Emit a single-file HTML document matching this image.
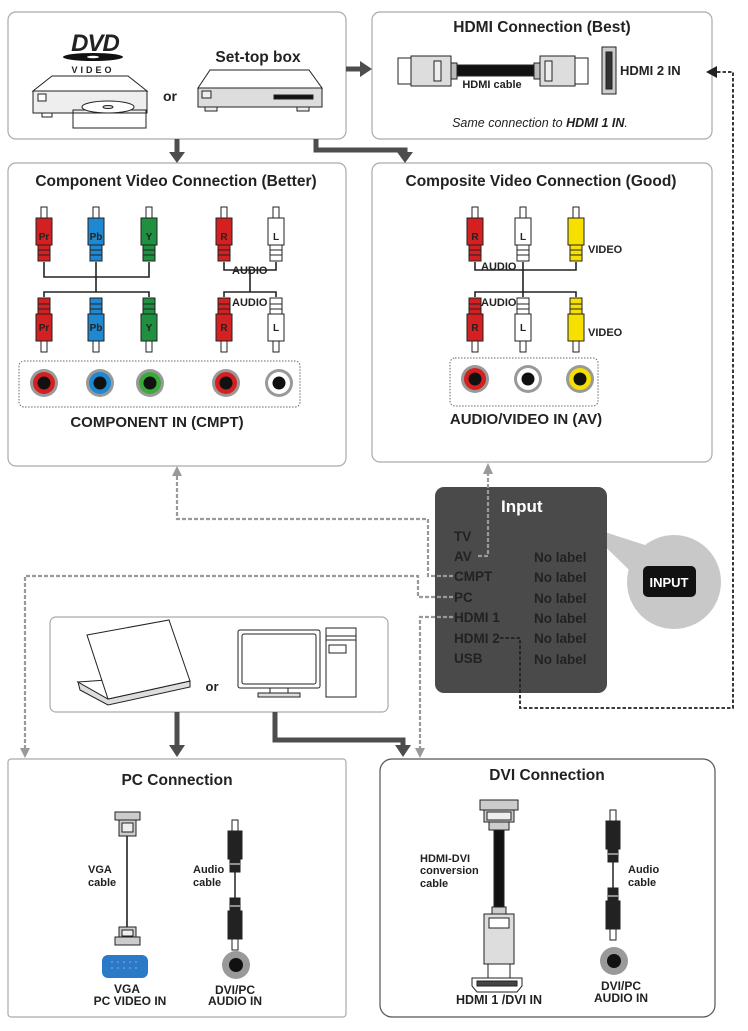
<!DOCTYPE html>
<html><head><meta charset="utf-8"><style>
html,body{margin:0;padding:0;background:#fff;width:748px;height:1031px;overflow:hidden}
svg{display:block}
text{font-family:"Liberation Sans Narrow","Liberation Sans",Arial,sans-serif;font-weight:bold;fill:#222}
</style></head><body>
<svg width="748" height="1031" viewBox="0 0 748 1031" xmlns="http://www.w3.org/2000/svg">
<defs>
<g id="rca" stroke="#222" stroke-width="1">
 <rect x="-3" y="0" width="6" height="11" fill="#fff"/>
 <rect x="-8" y="11" width="16" height="27" fill="currentColor"/>
 <rect x="-6" y="38" width="12" height="5" fill="currentColor"/>
 <rect x="-6" y="43" width="12" height="5" fill="currentColor"/>
 <rect x="-6" y="48" width="12" height="6" fill="currentColor"/>
</g>
<g id="blk" stroke="#222" stroke-width="1">
 <rect x="-3" y="0" width="6" height="11" fill="#fff"/>
 <rect x="-7" y="11" width="14" height="28" fill="#222"/>
 <rect x="-5" y="39" width="10" height="13" fill="#222"/>
 <line x1="-5" y1="44" x2="5" y2="44" stroke="#fff"/>
</g>
</defs>

<g fill="#fff" stroke="#aaa" stroke-width="1.2">
<rect x="8" y="12" width="338" height="127" rx="8"/>
<rect x="372" y="12" width="340" height="127" rx="8"/>
<rect x="8" y="163" width="338" height="303" rx="8"/>
<rect x="372" y="163" width="340" height="299" rx="8"/>
<rect x="50" y="617" width="338" height="95" rx="6"/>
<rect x="8" y="759" width="338" height="258" rx="3"/>
</g>
<rect x="380" y="759" width="335" height="258" rx="12" fill="#fff" stroke="#555" stroke-width="1.2"/>

<g stroke="#4d4d4d" stroke-width="5" fill="none">
<path d="M346 69 H361"/>
<path d="M177 139 V153"/>
<path d="M316 139 V150 H405 V153"/>
<path d="M177 712 V745"/>
<path d="M275 712 V740 H403 V745"/>
</g>
<g fill="#4d4d4d">
<path d="M360 61 L372 69 L360 77Z"/>
<path d="M169 152 L185 152 L177 163Z"/>
<path d="M397 152 L413 152 L405 163Z"/>
<path d="M169 745 L185 745 L177 757Z"/>
<path d="M395 745 L411 745 L403 757Z"/>
</g>

<text x="95" y="51" font-size="24" text-anchor="middle" font-style="italic" fill="#111" style="letter-spacing:-1px">DVD</text>
<ellipse cx="93" cy="57" rx="30" ry="4" fill="#111"/>
<ellipse cx="93" cy="57" rx="6" ry="1.3" fill="#fff"/>
<text x="93" y="73" font-size="9" text-anchor="middle" style="letter-spacing:3px;font-family:'Liberation Sans',sans-serif">VIDEO</text>
<g stroke="#222" stroke-width="1" fill="#fff">
<path d="M33 91 L52 76 H128 L147 91Z"/>
<rect x="33" y="91" width="114" height="22" fill="#eee"/>
<rect x="38" y="94" width="8" height="7"/>
<rect x="42" y="113" width="10" height="4"/>
<rect x="128" y="113" width="10" height="4"/>
<rect x="73" y="113" width="73" height="15"/>
<path d="M73 110 H146 V113 H73Z" fill="#eee"/>
<ellipse cx="108" cy="107" rx="26" ry="6"/>
<ellipse cx="108" cy="107" rx="5" ry="1.5" fill="#ddd"/>
</g>
<text x="170" y="101" font-size="14" text-anchor="middle">or</text>
<text x="258" y="62" font-size="15.5" text-anchor="middle">Set-top box</text>
<g stroke="#222" stroke-width="1" fill="#eee">
<path d="M198 88 L210 70 H309 L322 88Z" fill="#fff"/>
<rect x="198" y="88" width="124" height="19" fill="#ddd"/>
<rect x="202" y="91" width="9" height="7"/>
<rect x="274" y="95" width="39" height="4" fill="#111"/>
<rect x="205" y="107" width="12" height="4"/>
<rect x="297" y="107" width="12" height="4"/>
</g>

<text x="542" y="32" font-size="15.5" text-anchor="middle">HDMI Connection (Best)</text>
<g stroke="#222" stroke-width="1">
<rect x="398" y="58" width="13" height="26" fill="#fff"/>
<rect x="411" y="56" width="40" height="30" fill="#ddd"/>
<rect x="434" y="61" width="7" height="20" fill="#eee"/>
<rect x="451" y="63" width="6" height="16" fill="#bbb"/>
<rect x="457" y="65" width="77" height="11" fill="#111"/>
<rect x="534" y="63" width="6" height="16" fill="#bbb"/>
<rect x="540" y="56" width="35" height="30" fill="#ddd"/>
<rect x="545" y="61" width="7" height="20" fill="#eee"/>
<rect x="575" y="58" width="13" height="26" fill="#fff"/>
<rect x="602" y="47" width="14" height="47" fill="#ccc"/>
<rect x="606" y="52" width="6" height="37" fill="#333"/>
</g>
<text x="492" y="88" font-size="11" text-anchor="middle">HDMI cable</text>
<text x="620" y="75" font-size="13">HDMI 2 IN</text>
<text x="540" y="127" font-size="12.5" text-anchor="middle" font-style="italic" style="font-weight:normal">Same connection to <tspan font-weight="bold">HDMI 1 IN</tspan>.</text>

<text x="176" y="186" font-size="15.5" text-anchor="middle">Component Video Connection (Better)</text>
<g fill="none" stroke="#222" stroke-width="1.6">
<path d="M44 262 V277 H149 V262 M96 262 V292 M44 297 V292 H149 V297"/>
<path d="M224 262 V270 H276 V262 M250 270 V292 M224 297 V292 H276 V297"/>
<path d="M475 262 V270 H576 V262 M523 262 V297 M475 297 V292 H576 V297"/>
</g>
<use href="#rca" transform="translate(44,207)" color="#d42020"/>
<use href="#rca" transform="translate(96,207)" color="#1e88d0"/>
<use href="#rca" transform="translate(149,207)" color="#1f9040"/>
<use href="#rca" transform="translate(224,207)" color="#d42020"/>
<use href="#rca" transform="translate(276,207)" color="#fff"/>
<use href="#rca" transform="translate(44,352) scale(1,-1)" color="#d42020"/>
<use href="#rca" transform="translate(96,352) scale(1,-1)" color="#1e88d0"/>
<use href="#rca" transform="translate(149,352) scale(1,-1)" color="#1f9040"/>
<use href="#rca" transform="translate(224,352) scale(1,-1)" color="#d42020"/>
<use href="#rca" transform="translate(276,352) scale(1,-1)" color="#fff"/>
<use href="#rca" transform="translate(475,207)" color="#d42020"/>
<use href="#rca" transform="translate(523,207)" color="#fff"/>
<use href="#rca" transform="translate(576,207)" color="#f5e000"/>
<use href="#rca" transform="translate(475,352) scale(1,-1)" color="#d42020"/>
<use href="#rca" transform="translate(523,352) scale(1,-1)" color="#fff"/>
<use href="#rca" transform="translate(576,352) scale(1,-1)" color="#f5e000"/>
<g font-size="10" text-anchor="middle" style="font-weight:normal">
<text x="44" y="240">Pr</text><text x="96" y="240">Pb</text><text x="149" y="240">Y</text><text x="224" y="240">R</text><text x="276" y="240">L</text>
<text x="44" y="331">Pr</text><text x="96" y="331">Pb</text><text x="149" y="331">Y</text><text x="224" y="331">R</text><text x="276" y="331">L</text>
<text x="475" y="240">R</text><text x="523" y="240">L</text>
<text x="475" y="331">R</text><text x="523" y="331">L</text>
</g>
<g font-size="11">
<text x="232" y="274">AUDIO</text><text x="232" y="306">AUDIO</text>
<text x="481" y="270">AUDIO</text><text x="481" y="306">AUDIO</text>
<text x="588" y="253">VIDEO</text><text x="588" y="336">VIDEO</text>
</g>
<rect x="19" y="361" width="281" height="46" rx="5" fill="none" stroke="#666" stroke-dasharray="1.5 1.5"/>
<rect x="450" y="358" width="148" height="48" rx="5" fill="none" stroke="#666" stroke-dasharray="1.5 1.5"/>
<g>
<circle cx="44" cy="383" r="14" fill="#999"/><circle cx="44" cy="383" r="11" fill="#d42020"/><circle cx="44" cy="383" r="6.5" fill="#111"/>
<circle cx="100" cy="383" r="14" fill="#999"/><circle cx="100" cy="383" r="11" fill="#1e88d0"/><circle cx="100" cy="383" r="6.5" fill="#111"/>
<circle cx="150" cy="383" r="14" fill="#999"/><circle cx="150" cy="383" r="11" fill="#3aaa3a"/><circle cx="150" cy="383" r="6.5" fill="#111"/>
<circle cx="226" cy="383" r="14" fill="#999"/><circle cx="226" cy="383" r="11" fill="#d42020"/><circle cx="226" cy="383" r="6.5" fill="#111"/>
<circle cx="279" cy="383" r="14" fill="#999"/><circle cx="279" cy="383" r="11" fill="#fff"/><circle cx="279" cy="383" r="6.5" fill="#111"/>
<circle cx="475" cy="379" r="14" fill="#999"/><circle cx="475" cy="379" r="11" fill="#d42020"/><circle cx="475" cy="379" r="6.5" fill="#111"/>
<circle cx="528" cy="379" r="14" fill="#999"/><circle cx="528" cy="379" r="11" fill="#fff"/><circle cx="528" cy="379" r="6.5" fill="#111"/>
<circle cx="580" cy="379" r="14" fill="#999"/><circle cx="580" cy="379" r="11" fill="#f5e000"/><circle cx="580" cy="379" r="6.5" fill="#111"/>
</g>
<text x="157" y="427" font-size="15" text-anchor="middle">COMPONENT IN (CMPT)</text>
<text x="541" y="186" font-size="15.5" text-anchor="middle">Composite Video Connection (Good)</text>
<text x="526" y="424" font-size="15" text-anchor="middle">AUDIO/VIDEO IN (AV)</text>

<path d="M583 525 L645 545 L660 600 Z" fill="#c8c8c8"/>
<circle cx="674" cy="582" r="47" fill="#c8c8c8"/>
<rect x="435" y="487" width="172" height="206" rx="9" fill="#4a4a4a"/>
<rect x="643" y="566" width="53" height="31" rx="5" fill="#111"/>
<text x="669" y="587" font-size="13" text-anchor="middle" style="fill:#fff">INPUT</text>
<g style="fill:#fff" font-size="13.5">
<text x="501" y="512" font-size="17" style="fill:#fff">Input</text>
<text x="454" y="541">TV</text><text x="454" y="561">AV</text><text x="454" y="581">CMPT</text><text x="454" y="602">PC</text>
<text x="454" y="622">HDMI 1</text><text x="454" y="643">HDMI 2</text><text x="454" y="663">USB</text>
<text x="534" y="562">No label</text><text x="534" y="582">No label</text><text x="534" y="603">No label</text>
<text x="534" y="623">No label</text><text x="534" y="643">No label</text><text x="534" y="664">No label</text>
</g>

<g fill="none" stroke="#999" stroke-width="2.2" stroke-dasharray="4 2">
<path d="M478 556 H488 V472"/>
<path d="M453 576 H428 V519 H177 V474"/>
<path d="M453 597 H418 V576 H25 V749"/>
<path d="M453 617 H420 V749"/>
</g>
<g fill="#999">
<path d="M483 474 L493 474 L488 463Z"/>
<path d="M172 476 L182 476 L177 466Z"/>
<path d="M20 748 L30 748 L25 758Z"/>
<path d="M415 748 L425 748 L420 758Z"/>
</g>
<path d="M500 638 H520 V708 H733 V72 H715" fill="none" stroke="#222" stroke-width="1.8" stroke-dasharray="3.5 2"/>
<path d="M717 66 L706 72 L717 78Z" fill="#222"/>

<g stroke="#222" stroke-width="1" fill="#fff">
<path d="M78 682 L80 690 L108 705 L190 687 L190 681 L108 699Z" fill="#ddd"/>
<path d="M78 682 L108 699 L190 681 L164 676 Z" fill="#fff"/>
<path d="M87 635 L169 620 L190 681 L108 699Z"/>
<rect x="238" y="630" width="82" height="58" rx="2"/>
<rect x="242" y="634" width="74" height="50" rx="2"/>
<rect x="270" y="688" width="18" height="5"/>
<rect x="258" y="693" width="42" height="4" fill="#ddd"/>
<rect x="326" y="628" width="30" height="69"/>
<path d="M326 636 H356 M326 640 H356"/>
<rect x="329" y="645" width="17" height="8"/>
</g>
<text x="212" y="691" font-size="13" text-anchor="middle">or</text>

<text x="177" y="785" font-size="15.5" text-anchor="middle">PC Connection</text>
<g stroke="#222" stroke-width="1" fill="#ccc">
<rect x="115" y="812" width="25" height="8"/>
<rect x="119" y="820" width="17" height="16"/>
<rect x="122" y="823" width="11" height="9" fill="#eee"/>
<line x1="127" y1="836" x2="127" y2="927" stroke-width="1.6"/>
<rect x="119" y="927" width="17" height="10"/>
<rect x="122" y="930" width="11" height="6" fill="#eee"/>
<rect x="115" y="937" width="25" height="8"/>
</g>
<rect x="102" y="955" width="46" height="23" rx="6" fill="#2a7ac8"/>
<g fill="#aad">
<circle cx="112" cy="962" r="0.8"/><circle cx="118" cy="962" r="0.8"/><circle cx="124" cy="962" r="0.8"/><circle cx="130" cy="962" r="0.8"/><circle cx="136" cy="962" r="0.8"/>
<circle cx="112" cy="968" r="0.8"/><circle cx="118" cy="968" r="0.8"/><circle cx="124" cy="968" r="0.8"/><circle cx="130" cy="968" r="0.8"/><circle cx="136" cy="968" r="0.8"/>
</g>
<text x="127" y="993" font-size="12" text-anchor="middle">VGA</text>
<text x="130" y="1005" font-size="12" text-anchor="middle">PC VIDEO  IN</text>
<text x="88" y="873" font-size="11">VGA</text>
<text x="88" y="886" font-size="11">cable</text>
<text x="193" y="873" font-size="11">Audio</text>
<text x="193" y="886" font-size="11">cable</text>
<use href="#blk" transform="translate(235,820)"/>
<line x1="235" y1="872" x2="235" y2="898" stroke="#222" stroke-width="1.5"/>
<use href="#blk" transform="translate(235,950) scale(1,-1)"/>
<circle cx="236" cy="965" r="14" fill="#999"/><circle cx="236" cy="965" r="7" fill="#111"/>
<text x="235" y="994" font-size="12" text-anchor="middle">DVI/PC</text>
<text x="235" y="1005" font-size="12" text-anchor="middle">AUDIO IN</text>

<text x="547" y="780" font-size="15.5" text-anchor="middle">DVI Connection</text>
<g stroke="#222" stroke-width="1" fill="#ccc">
<rect x="480" y="800" width="38" height="10"/>
<rect x="484" y="810" width="30" height="12"/>
<rect x="487" y="812" width="24" height="8" fill="#eee"/>
<rect x="489" y="822" width="20" height="8"/>
<rect x="494" y="830" width="10" height="77" fill="#111"/>
<rect x="492" y="907" width="14" height="7"/>
<rect x="484" y="914" width="30" height="50" fill="#ddd"/>
<rect x="489" y="918" width="20" height="10" fill="#fff"/>
<rect x="488" y="964" width="22" height="16" fill="#fff"/>
<path d="M472 978 H522 V986 L517 992 H477 L472 986Z" fill="#fff"/>
<rect x="477" y="981" width="40" height="5" fill="#444"/>
</g>
<text x="499" y="1004" font-size="12.5" text-anchor="middle">HDMI 1 /DVI IN</text>
<text x="420" y="862" font-size="11">HDMI-DVI</text>
<text x="420" y="874" font-size="11">conversion</text>
<text x="420" y="887" font-size="11">cable</text>
<use href="#blk" transform="translate(613,810)"/>
<line x1="613" y1="862" x2="613" y2="890" stroke="#222" stroke-width="1.5"/>
<use href="#blk" transform="translate(613,940) scale(1,-1)"/>
<circle cx="614" cy="961" r="14" fill="#999"/><circle cx="614" cy="961" r="7" fill="#111"/>
<text x="621" y="990" font-size="12" text-anchor="middle">DVI/PC</text>
<text x="621" y="1002" font-size="12" text-anchor="middle">AUDIO IN</text>
<text x="628" y="873" font-size="11">Audio</text>
<text x="628" y="886" font-size="11">cable</text>
</svg>
</body></html>
